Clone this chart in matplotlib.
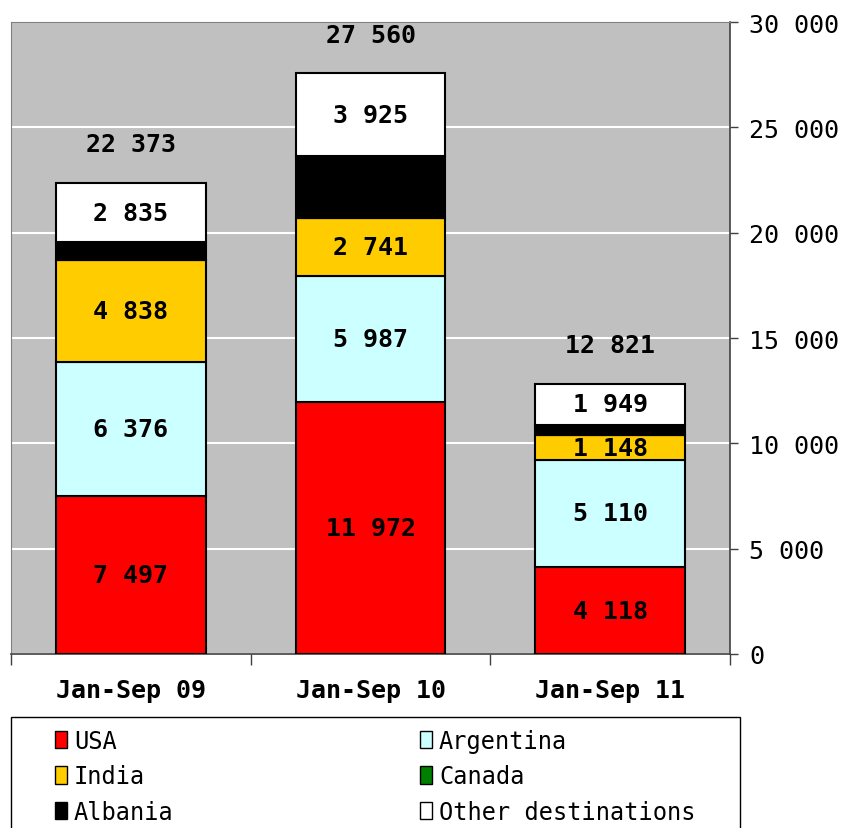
import numpy as np
import matplotlib
matplotlib.use("Agg")
import matplotlib.pyplot as plt
from matplotlib.patches import Patch, Rectangle
from matplotlib.ticker import FuncFormatter

# Data
periods = ["Jan-Sep 09", "Jan-Sep 10", "Jan-Sep 11"]
totals = [22373, 27560, 12821]
usa = [7497, 11972, 4118]
argentina = [6376, 5987, 5110]
india = [4838, 2741, 1148]
canada = [0, 0, 0]
other = [2835, 3925, 1949]
# Albania is the remainder of each total
albania = [t - u - a - i - c - o for t, u, a, i, c, o
           in zip(totals, usa, argentina, india, canada, other)]

series = [
    ("USA", usa, "#FF0000", True),
    ("Argentina", argentina, "#CCFFFF", True),
    ("India", india, "#FFCC00", True),
    ("Canada", canada, "#008000", False),
    ("Albania", albania, "#000000", False),
    ("Other destinations", other, "#FFFFFF", True),
]


def spaced(v):
    return f"{int(v):,}".replace(",", " ")


plt.rcParams["font.family"] = ["DejaVu Sans Mono", "DejaVu Sans"]

W, H = 841, 829
fig = plt.figure(figsize=(W / 100, H / 100), dpi=100)
ax = fig.add_axes([11 / W, 1 - 655 / H, 719 / W, 632 / H])
ax.set_facecolor("#C0C0C0")

x = np.arange(len(periods))
bottom = np.zeros(len(periods))
for name, vals, color, labelled in series:
    vals = np.array(vals, dtype=float)
    ax.bar(x, vals, width=0.625, bottom=bottom, color=color,
           edgecolor="black", linewidth=1.5, zorder=3)
    if labelled:
        for xi, b, v in zip(x, bottom, vals):
            ax.text(xi, b + v / 2, spaced(v), ha="center", va="center",
                    fontsize=18, fontweight="bold", zorder=4)
    bottom += vals

for xi, t in zip(x, totals):
    ax.annotate(spaced(t), (xi, t), xytext=(0, 28), textcoords="offset points",
                ha="center", va="center", fontsize=18, fontweight="bold")

ax.set_xlim(-0.5, 2.5)
ax.set_ylim(0, 30000)
ax.yaxis.tick_right()
ax.set_yticks(np.arange(0, 30001, 5000))
ax.yaxis.set_major_formatter(FuncFormatter(lambda v, p: spaced(v)))
ax.tick_params(axis="y", direction="out", length=6, width=1, colors="#404040",
               labelcolor="black", labelsize=18, pad=8)
ax.grid(axis="y", color="white", linewidth=1.5, zorder=1)

ax.set_xticks(x)
ax.set_xticklabels(periods, fontsize=18, fontweight="bold")
ax.set_xticks([-0.5, 0.5, 1.5, 2.5], minor=True)
ax.tick_params(axis="x", which="major", length=0, pad=17)
ax.tick_params(axis="x", which="minor", length=8, width=1, colors="#404040")

for side in ["top", "left"]:
    ax.spines[side].set_color("#808080")
for side in ["bottom", "right"]:
    ax.spines[side].set_color("#404040")
    ax.spines[side].set_linewidth(1.2)

# legend frame, running off the bottom edge like the reference
fig.patches.append(Rectangle((11 / W, -0.05), 729 / W, 0.05 + (829 - 718) / H,
                             transform=fig.transFigure, facecolor="white",
                             edgecolor="black", linewidth=1.0, zorder=0))

handles = {n: Patch(facecolor=c, edgecolor="black", label=n)
           for n, _, c, _ in series}
columns = [(["USA", "India", "Albania"], 55),
           (["Argentina", "Canada", "Other destinations"], 420)]
for names, x0 in columns:
    leg = fig.legend([handles[n] for n in names], names, loc="upper left",
                     bbox_to_anchor=(x0 / W, 1 - 730 / H), frameon=False,
                     fontsize=17, handlelength=0.5, handleheight=0.75,
                     handletextpad=0.3, labelspacing=0.48, borderpad=0,
                     borderaxespad=0)

fig.savefig("out.png", dpi=100)
